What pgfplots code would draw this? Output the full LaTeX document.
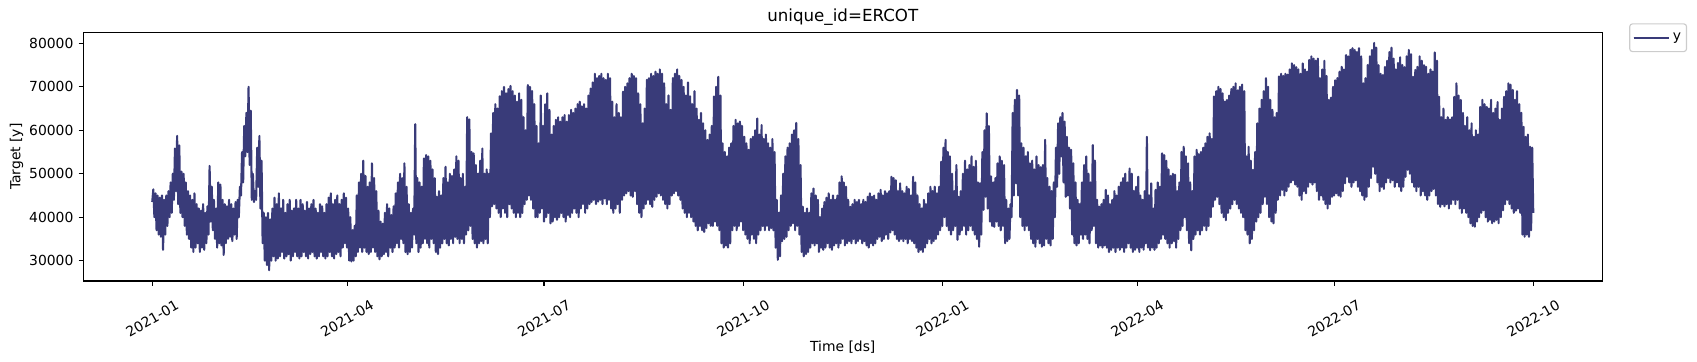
\documentclass[border=0pt]{standalone}
\usepackage{fontspec}
\setmainfont{DejaVu Sans}
\usepackage{pgfplots}
\pgfplotsset{compat=1.18}
\usepackage{pgfplotstable}
\definecolor{navy}{RGB}{57,59,121}
\definecolor{legframe}{RGB}{204,204,204}
% hourly load in thousands, alternating daily low / daily high (half-day steps)
\pgfplotstableread[row sep=\\]{
v\\
43.5\\46.4\\40\\45.5\\37\\45\\36\\44.5\\35.5\\45\\32.5\\44\\36\\45\\38\\46\\40\\48\\41\\50\\
44\\55.8\\46\\58.7\\43\\56.5\\41\\50.5\\40\\50\\38\\48\\36\\46\\35\\45\\33\\44\\32\\45.5\\
33\\43\\34\\42\\32\\41.5\\33\\43\\32.5\\41\\34\\42.5\\36\\51.8\\39\\47\\37\\44\\35\\42\\
33\\48\\34\\47.5\\33.5\\44\\31.3\\43\\34\\42.5\\35\\44\\35.5\\43\\34.5\\42\\36\\43.5\\35\\44\\
40\\47\\45\\55\\48\\61\\54\\64\\55\\70\\52\\64.5\\44\\50\\43.5\\46\\44\\56\\47\\58.7\\
42\\53\\34\\41\\30\\40\\29\\41\\27.8\\39.5\\30\\42\\31\\44.5\\30\\43\\30.5\\45.5\\31\\42\\
32\\44\\30.5\\41\\31\\43\\31.5\\44\\30\\41.5\\31\\42\\32\\44\\31\\42\\30.5\\44\\31\\43\\
32\\41.5\\31\\43.5\\30.5\\42\\31.5\\43\\32\\44\\31\\42\\30.5\\41\\31\\43\\32\\42.5\\31\\41\\
30.5\\43\\31\\44.5\\32\\45.5\\31\\43\\30.5\\44\\31.5\\45\\32\\43\\31\\44\\33\\45.5\\34\\44.5\\
33\\42\\30\\40\\29.8\\37\\30\\38\\31\\45\\32\\48\\33\\50\\32\\53\\33\\49.5\\32\\47\\
31.5\\48\\32\\52.4\\33\\49\\32\\46\\31\\41.5\\30.3\\39\\31\\38.5\\31.5\\41\\32\\43\\31\\42\\
33\\40.5\\32\\42.5\\33\\45.5\\34\\48\\33\\50\\35\\49\\34\\52.4\\32\\47\\31.5\\43\\32\\41\\
33\\42\\36\\61.4\\34\\49\\32\\48\\33\\47\\34\\53.5\\35\\54.3\\34\\54\\33\\53\\35\\51\\
34\\49\\32\\44.7\\31.5\\46\\33\\45\\34\\49\\35\\51.6\\34\\48\\33.5\\50\\35\\49.5\\34\\51\\
35.5\\54\\35\\53\\34\\49\\35\\50\\34\\47\\36\\63\\37\\62.5\\38\\55\\35\\54.7\\34\\52\\
33\\50\\34\\53\\34.5\\55.8\\34\\50\\35\\51\\34\\50\\40\\59.3\\42.5\\64\\43\\66\\42\\65\\
41\\67.8\\40\\69\\42\\70\\41\\68.5\\40\\69.5\\43\\70.2\\42\\69\\41\\68\\40\\66.6\\41\\68.5\\
40\\67\\41\\63\\43\\60\\44\\70.4\\45\\70\\44\\69\\42\\66\\40\\61\\40\\57\\41\\68\\
42\\61\\39\\66\\40\\68.5\\41\\64.7\\38.6\\59\\39\\61\\40\\62.4\\39.4\\63\\40\\62\\41\\63\\
40\\63.5\\39\\62\\40.5\\63.5\\40\\64.7\\41\\64\\42\\65\\41\\66\\40\\66.6\\42\\65.5\\43\\66\\
41\\65\\42\\68\\43\\69.6\\43.5\\71\\44\\73\\43\\72\\43.6\\72.5\\44\\73\\43\\72\\44.3\\71.6\\
43\\73\\44\\72\\42\\66.6\\41\\63\\42\\66\\43\\64\\41\\63\\44\\68.9\\45\\70\\45.5\\70.8\\
46\\72\\45\\73\\44.7\\72.5\\46\\72\\43\\68.5\\41\\66\\40\\61.6\\42\\65\\43\\71.6\\44\\72\\
43\\73\\42.4\\72.5\\44\\73.5\\44.7\\73\\45.5\\74\\45\\73\\44\\70.8\\43\\66\\42\\68\\43\\64.7\\
45\\72\\45.5\\73\\46\\74\\45\\72.5\\44\\71.6\\42\\70\\41\\68\\40\\71\\41\\67.8\\40\\66\\
39\\69\\38\\65\\37\\62.4\\38\\64\\37\\61.6\\36.6\\60\\37.5\\57.8\\38.6\\59\\38\\61\\38\\67.8\\
39\\70\\38\\72.3\\37\\68\\34\\57\\33\\55\\33.5\\54\\33\\56\\34\\57\\37\\61\\38\\62.4\\
37\\61.6\\38\\62\\39\\61\\37\\58.5\\36\\57\\35\\55.5\\34\\58\\36\\58.5\\35\\60\\34\\62.7\\
36\\59\\37\\61.2\\38\\58\\37\\59\\38\\57\\37\\56\\37.5\\58\\37\\55\\33\\44\\30.2\\41\\
31\\45\\34.5\\50\\35\\54\\35.5\\56\\37\\57\\38\\59\\38.6\\60\\37\\61.7\\38\\58\\36\\52\\
32\\42.4\\31\\41\\31.5\\42\\32\\41\\33\\45.5\\34\\46.6\\33.5\\45\\34\\44\\32\\40\\33\\42\\
32.5\\43.5\\33\\44.5\\34\\45.5\\33\\44\\32.5\\45\\33.5\\44\\34\\45\\33\\48\\34\\49.4\\35\\48\\
33.5\\47\\34\\44\\34.5\\42.4\\34\\43\\35\\44\\34\\43.5\\34.5\\44\\35\\43\\34\\44\\34.5\\43.5\\
33.5\\44.7\\33\\45.5\\34\\44.7\\33.5\\45\\34\\44\\35\\45.5\\35.5\\46.3\\34.5\\45\\35\\46\\36\\45.5\\
35\\46\\36.5\\49.3\\37\\49\\36\\48.5\\35\\46\\34.5\\47.8\\35\\46\\34.5\\45.5\\35\\47\\34\\46.5\\
35\\45\\34.5\\49.3\\34\\48\\33\\45\\32\\43\\32.5\\42\\32\\44\\33\\43\\34\\45.5\\35\\47\\
34\\46\\34.5\\47\\35\\45.5\\36\\47\\37\\52.8\\38\\56\\40\\57.8\\38\\55\\37\\54\\36\\50\\
37\\46\\38\\52\\34.8\\44.7\\36\\46\\37\\50\\38\\53\\36\\51\\37\\52\\38\\54\\37\\51.6\\
36\\53\\35\\48\\33.2\\47.8\\36\\55\\41.7\\60\\44.7\\63.9\\42\\61\\39\\49.4\\38\\48\\37.8\\49\\
39\\52.4\\38\\54\\37\\53\\38\\52\\34\\44\\34.5\\42\\35\\43\\40\\64\\45\\67\\47.8\\69.3\\
45\\68\\40\\57\\38\\56\\37\\54\\38\\55\\37\\52.4\\35\\53\\34\\51\\33.2\\54\\35\\52\\
34\\51.5\\33.2\\52\\33.5\\57.8\\35\\49\\34\\47\\33.5\\46\\35\\48\\40\\56\\47\\61.6\\50\\63\\
54\\64\\48\\62\\44.7\\58.5\\45\\56\\42\\55.5\\36\\52.4\\34\\48\\33.5\\44\\34\\43\\36\\48\\
35\\52\\36\\54\\35\\50\\34\\48\\37\\56.6\\38\\53\\34\\44\\33\\42.4\\33.5\\43\\33\\44\\
33.5\\46.3\\33\\45\\32\\43\\32.5\\44\\33\\46\\32\\45\\33\\47\\32.5\\48\\33\\49\\32\\50\\
33\\48\\34\\51.2\\33\\50\\32\\46\\32.5\\47\\33\\49.3\\32\\45\\33\\44\\32.5\\46\\34\\58.5\\
33\\45\\32.4\\47.8\\33\\42\\32.5\\46.3\\33\\48\\34\\47\\35\\54.7\\36\\54.3\\35\\53\\34\\51\\
33\\49.5\\34\\50\\34.5\\49.8\\33\\46\\35\\48\\37\\55\\38\\56.2\\40\\54\\37\\52.4\\34\\48\\
32.4\\46\\35\\54\\36\\55.5\\37\\54.5\\36\\55\\37\\56\\38\\57\\37\\58.5\\38\\59.3\\40\\58\\
42.4\\67.8\\44\\69\\44.7\\70\\43\\69.5\\41\\68.5\\40\\66.6\\39.3\\67\\41\\68\\42\\69.5\\43\\70\\
44\\70.8\\43\\69.2\\42\\70\\41\\70.5\\40\\69\\37\\54\\36\\56.2\\34\\53\\35\\50.9\\37\\55\\
39\\61.6\\40\\65\\41\\67\\43\\69\\44.7\\72\\43\\70\\40\\67\\39\\64.7\\38.6\\63\\41\\64\\
44\\72.4\\45\\73\\46.3\\72.5\\45\\73\\46\\72.8\\47\\74\\48\\75.4\\48.5\\75\\47.5\\74.5\\47\\74\\
45\\73\\44\\75.4\\46\\74\\45.5\\73.5\\47\\76.2\\48\\77\\47.5\\76.5\\48\\76\\46\\76.5\\44\\72\\
45\\74\\44\\76\\43\\72.5\\42\\67\\43\\67.5\\44.7\\70\\45\\71.5\\45.5\\72\\45\\73.5\\44.7\\74.6\\
46\\74\\47.8\\77.3\\49.3\\77\\48\\78.5\\47\\78.9\\48\\78.5\\48.5\\78\\47\\78.9\\46\\77\\45\\70.8\\
44\\72\\44.7\\75\\47\\77\\49\\78.5\\51.6\\80.1\\50\\79\\48\\75\\46\\73\\47\\72.7\\46.5\\74.6\\
48\\76\\49\\78\\48\\79\\48.5\\76.5\\47\\74\\48\\75.5\\47\\76.8\\46\\75\\47\\74.5\\49.3\\77\\
50.9\\78.5\\50\\77.5\\48\\72.3\\47\\73.9\\46\\74.6\\47\\77\\45\\76\\46\\75\\45\\74.6\\44\\73\\
45\\74\\46\\73.5\\46.5\\77.9\\45\\76\\43\\67.7\\42.4\\63\\43\\65\\42.5\\62.4\\43\\63\\42\\62.5\\
43\\63\\44\\67.7\\43\\70.8\\44\\68\\42\\67\\41\\64\\42\\61\\41\\63\\40\\60\\38.6\\61.6\\
38\\58.5\\37.8\\60\\39\\59\\40\\65.4\\41\\67\\41.6\\66\\40\\65.4\\39\\65\\39.4\\67\\38.6\\64\\
39\\65\\39.4\\66.5\\38.6\\62.4\\40\\65\\41.6\\67.7\\43\\69\\44\\70.8\\43\\70.5\\42\\69.3\\41\\67\\
41.5\\69\\42\\66\\41\\64\\36\\60.8\\35.5\\58.5\\36\\59\\35.5\\56.2\\37\\56\\
41\\
}\ercot
\begin{document}
\begin{tikzpicture}
\useasboundingbox (-60.05pt,-57.6pt) rectangle (1161.79pt,202.32pt);
\begin{axis}[
  scale only axis,
  width=1093.5pt, height=179.06pt,
  xmin=-31.8, xmax=669.8,
  ymin=25320, ymax=82540,
  axis line style={line width=0.8pt},
  tick style={line width=0.8pt, black},
  tick align=outside,
  major tick length=3.5pt,
  xtick pos=bottom, ytick pos=left,
  xtick={0,90,181,273,365,455,546,638},
  xticklabels={2021-01,2021-04,2021-07,2021-10,2022-01,2022-04,2022-07,2022-10},
  ytick={30000,40000,50000,60000,70000,80000},
  scaled y ticks=false,
  /pgf/number format/1000 sep={},
  /pgf/number format/assume math mode=true,
  x tick label style={yshift=-23.6pt, rotate=30, anchor=center},
  y tick label style={anchor=east, inner sep=0pt, xshift=-3.5pt},
  tick label style={font=\fontsize{10}{12}\selectfont},
  title={unique\_id=ERCOT},
  title style={at={(axis description cs:0.5,1.0363)}, anchor=base, yshift=-4.8pt, font=\fontsize{12}{14}\selectfont},
  xlabel={Time [ds]},
  xlabel style={at={(axis description cs:0.5,-0.2706)}, anchor=base, yshift=-2.5pt, font=\fontsize{10}{12}\selectfont},
  ylabel={Target [y]},
  ylabel style={at={(axis description cs:-0.0415,0.5)}, anchor=base, font=\fontsize{10}{12}\selectfont},
  legend style={at={(axis description cs:1.0178,1.0362)}, anchor=north west,
    draw=legframe, rounded corners=2pt, line width=0.8pt,
    font=\fontsize{10}{12}\selectfont, inner xsep=2pt, inner ysep=4.5pt},
  legend image code/.code={\draw[#1] (0pt,0pt) -- (22.3pt,0pt); \path (0pt,0pt) -- (25.5pt,0pt);},
]
\addplot[navy, line width=1.5pt, line join=round]
  table[x index=0, y index=0, x expr=\coordindex*0.5, y expr=\thisrow{v}*1000] {\ercot};
\addlegendentry{y}
\end{axis}
\end{tikzpicture}
\end{document}
